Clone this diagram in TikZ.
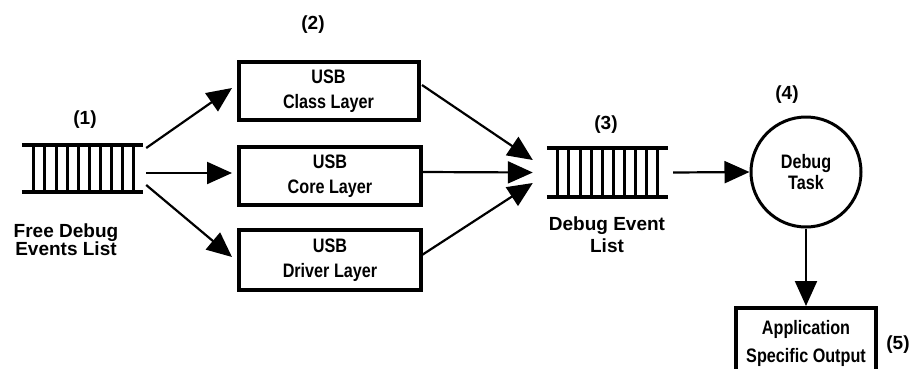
\documentclass[tikz,border=0pt]{standalone}
\usepackage{fontspec}
\setmainfont{Liberation Sans}
\newfontfamily\narrowfont[FakeStretch=0.83]{Liberation Sans}
\usetikzlibrary{arrows.meta}
\begin{document}
\begin{tikzpicture}[x=1pt,y=-1pt,
  lbl/.style={font=\bfseries\fontsize{19}{18}\selectfont, align=center, inner sep=0pt},
  boxtxt/.style={font=\narrowfont\bfseries\fontsize{19.5}{24.5}\selectfont, align=center, inner sep=0pt},
  layerbox/.style={draw, line width=4pt, minimum width=182pt, minimum height=58pt, inner sep=0pt, boxtxt},
  arr/.style={line width=2.2pt, -{Triangle[length=25pt,width=22pt]}},
  qline/.style={line width=3.5pt},
  qbar/.style={line width=3pt}
]
\useasboundingbox (0,0) rectangle (914,368);

% queue 1
\node[minimum width=121pt, minimum height=47pt, inner sep=0pt] (q1) at (82.5,168.5) {};
\draw[qline] (q1.north west) -- (q1.north east) (q1.south west) -- (q1.south east);
\foreach \i in {0,...,9} {
  \draw[qbar] ([xshift=12pt+\i*11.1pt]q1.north west) -- ([xshift=12pt+\i*11.1pt]q1.south west);
}
% queue 3
\node[minimum width=121pt, minimum height=49pt, inner sep=0pt] (q3) at (607.5,172.5) {};
\draw[qline] (q3.north west) -- (q3.north east) (q3.south west) -- (q3.south east);
\foreach \i in {0,...,9} {
  \draw[qbar] ([xshift=11pt+\i*11.1pt]q3.north west) -- ([xshift=11pt+\i*11.1pt]q3.south west);
}

% labels
\node[lbl] (l1) at (85,120) {(1)};
\node[lbl] (t1) at (66,240) {Free Debug\\Events List};
\node[lbl] (l2) at (313,25) {(2)};
\node[lbl] (l3) at (606,125) {(3)};
\node[lbl, font=\bfseries\fontsize{19}{22}\selectfont] (t3) at (607,235) {Debug Event\\List};
\node[lbl] (l4) at (787,95) {(4)};
\node[lbl] (l5) at (898,345) {(5)};

% layer boxes
\node[layerbox, minimum width=180pt] (cl) at (328.5,91) {USB\\Class Layer};
\node[layerbox] (co) at (330,176) {USB\\Core Layer};
\node[layerbox, minimum height=60pt] (dr) at (330,260) {USB\\Driver Layer};

% debug task
\node[draw, circle, line width=3pt, minimum size=110pt, inner sep=0pt, boxtxt, font=\narrowfont\bfseries\fontsize{19.5}{21}\selectfont] (dt) at (806,172) {Debug\\Task};

% application box
\node[draw, line width=4pt, minimum width=140pt, minimum height=64pt, inner sep=0pt] (ap) at (806,340) {};
\node[boxtxt, font=\narrowfont\bfseries\fontsize{19.5}{28}\selectfont] (apt) at (806,343) {Application\\Specific Output};

% arrows
\draw[arr] ([shift={(3,-20.5)}]q1.east) -- ([shift={(-4.5,-3)}]cl.west);
\draw[arr] ([shift={(3,4.5)}]q1.east) -- ([shift={(-5,-3)}]co.west);
\draw[arr] ([shift={(3,16.5)}]q1.east) -- ([shift={(-5,-3)}]dr.west);

\draw[arr] ([shift={(1.5,-6)}]cl.east) -- ([shift={(-14,-12.5)}]q3.west);
\draw[arr] ([shift={(-1,-4)}]co.east) -- ([shift={(-14,0)}]q3.west);
\draw[arr] ([shift={(-1,-5)}]dr.east) -- ([shift={(-14,10.5)}]q3.west);

\draw[arr] ([xshift=5pt]q3.east) -- (dt.west);
\draw[arr] (dt.south) -- (ap.north);
\end{tikzpicture}
\end{document}
